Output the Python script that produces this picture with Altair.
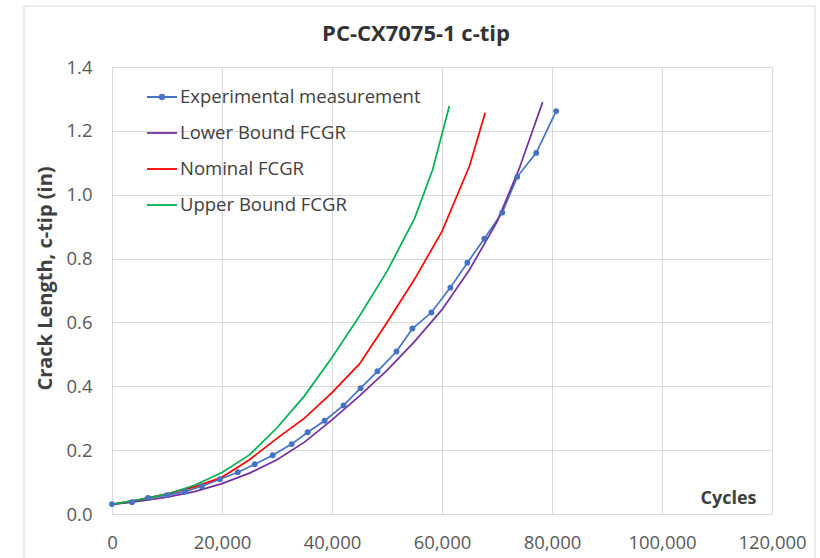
import altair as alt
import pandas as pd

# Experimental c-tip crack length measurements
exp_cycles = [0, 3630, 6530, 9980, 13250, 16330, 19600, 22870, 25950, 29220,
              32670, 35570, 38660, 42100, 45190, 48270, 51720, 54630, 58070,
              61520, 64610, 67690, 70960, 73680, 77130, 80760]
exp_length = [0.031, 0.037, 0.050, 0.059, 0.070, 0.087, 0.109, 0.131, 0.156, 0.184,
              0.219, 0.256, 0.292, 0.340, 0.394, 0.447, 0.509, 0.581, 0.631,
              0.709, 0.787, 0.862, 0.944, 1.056, 1.131, 1.262]

# Predicted crack growth for three FCGR curves
lower_cycles = [0, 5000, 10000, 15000, 20000, 25000, 30000, 35000, 40000,
                45000, 50000, 55000, 60000, 65000, 70000, 74000, 78300]
lower_length = [0.030, 0.040, 0.053, 0.070, 0.095, 0.128, 0.170, 0.225, 0.295,
                0.370, 0.450, 0.540, 0.640, 0.765, 0.915, 1.080, 1.290]

nominal_cycles = [0, 5000, 10000, 15000, 20000, 25000, 30000, 35000, 40000,
                  45000, 50000, 55000, 60000, 65000, 67850]
nominal_length = [0.030, 0.045, 0.063, 0.085, 0.115, 0.170, 0.237, 0.300, 0.380,
                  0.470, 0.600, 0.735, 0.885, 1.090, 1.257]

upper_cycles = [0, 5000, 10000, 15000, 20000, 25000, 30000, 35000, 40000,
                45000, 50000, 55000, 58300, 60000, 61340]
upper_length = [0.030, 0.045, 0.062, 0.090, 0.130, 0.185, 0.270, 0.370, 0.490,
                0.620, 0.760, 0.925, 1.078, 1.190, 1.278]

series_names = ["Experimental measurement", "Lower Bound FCGR",
                "Nominal FCGR", "Upper Bound FCGR"]
series_colors = ["#4472C4", "#7030A0", "#FF0000", "#00B050"]

x_ticks = [0, 20000, 40000, 60000, 80000, 100000, 120000]
y_ticks = [0.0, 0.2, 0.4, 0.6, 0.8, 1.0, 1.2, 1.4]

rows = []
for name, cs, ls in zip(series_names,
                        [exp_cycles, lower_cycles, nominal_cycles, upper_cycles],
                        [exp_length, lower_length, nominal_length, upper_length]):
    for i, (c, l) in enumerate(zip(cs, ls)):
        rows.append({"series": name, "cycles": c, "length": l, "order": i})
df = pd.DataFrame(rows)
exp_df = df[df["series"] == series_names[0]]

FONT = "Open Sans"
GRID = "#d9d9d9"

# legend glyphs: a line segment, with a dot for the measured series
LINE_DOT = "M-1,0H1M-0.15,0A0.15,0.15 0 1,0 0.15,0A0.15,0.15 0 1,0 -0.15,0"
LINE_ONLY = "M-1,0H1"

x_enc = alt.X("cycles:Q",
              scale=alt.Scale(domain=[0, 120000], nice=False, zero=False),
              axis=alt.Axis(values=x_ticks, format=",d", title="Cycles",
                            titleX=616, titleY=-16, titleAlign="center",
                            titleBaseline="middle", titleAngle=0,
                            titleFontSize=18,
                            labelPadding=19, ticks=False, domain=False,
                            labelFlush=False))
y_enc = alt.Y("length:Q",
              scale=alt.Scale(domain=[0, 1.4], nice=False),
              axis=alt.Axis(values=y_ticks, format=".1f",
                            title="Crack Length, c-tip (in)",
                            titleX=-67, titleY=211, titleAngle=-90,
                            titleAlign="center", titleBaseline="middle",
                            titleFontSize=20,
                            labelPadding=20, ticks=False, domain=True,
                            domainColor=GRID))

color_scale = alt.Scale(domain=series_names, range=series_colors)

legend_style = dict(
    title=None, orient="none", legendX=34, legendY=14,
    symbolSize=900, symbolStrokeWidth=1.8, rowPadding=10,
    labelFont=FONT, labelFontSize=18.5, labelColor="#404040",
    labelOffset=2, padding=0, symbolOpacity=1, labelLimit=500,
)

# legend-only layer: draws nothing, carries the colour + glyph legend
legend_layer = alt.Chart(df).transform_filter("datum.cycles < 0").mark_point(
    filled=False, strokeWidth=1.8
).encode(
    x=x_enc, y=y_enc,
    color=alt.Color("series:N", scale=color_scale, sort=series_names,
                    legend=alt.Legend(**legend_style)),
    shape=alt.Shape(
        "series:N", sort=series_names,
        scale=alt.Scale(domain=series_names,
                        range=[LINE_DOT, LINE_ONLY, LINE_ONLY, LINE_ONLY]),
        legend=alt.Legend(**legend_style),
    ),
)

lines = alt.Chart(df).mark_line(strokeWidth=1.7).encode(
    x="cycles:Q",
    y="length:Q",
    order="order:Q",
    color=alt.Color("series:N", scale=color_scale, legend=None),
)

markers = alt.Chart(exp_df).mark_circle(size=34, opacity=1, color="#4472C4").encode(
    x="cycles:Q", y="length:Q"
)

# light outer frame around the whole figure
frame = alt.Chart(pd.DataFrame({"k": [0]})).mark_rect(
    filled=False, stroke=GRID, strokeWidth=1, clip=False
).encode(
    x=alt.value(-88), x2=alt.value(703), y=alt.value(-61), y2=alt.value(500)
)

chart = alt.layer(legend_layer, frame, lines, markers).properties(
    width=660, height=447,
    title=alt.TitleParams("PC-CX7075-1 c-tip", font=FONT, fontSize=22,
                          fontWeight="bold", color="#333333", anchor="middle",
                          dx=-26, offset=-40),
    autosize=alt.AutoSizeParams(type="none"),
    padding={"left": 112, "top": 67, "right": 48, "bottom": 44},
    background="white",
).configure_axis(
    labelFont=FONT, labelFontSize=18.5, labelColor="#595959",
    titleFont=FONT, titleFontWeight="bold", titleColor="#404040",
    gridColor=GRID, gridWidth=1,
).configure_view(stroke=None)

chart.save("out.html", embed_options={"renderer": "svg", "actions": False})
